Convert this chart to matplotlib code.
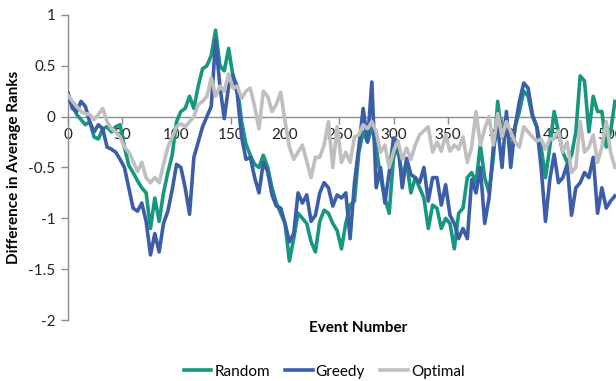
import matplotlib
matplotlib.use("Agg")
import matplotlib.pyplot as plt
import numpy as np

plt.rcParams["font.family"] = ["Lato", "DejaVu Sans"]

# event numbers (every 4th event)
events = np.arange(0, 505, 4)

random_vals = [
    0.22, 0.12, 0.02, -0.03, -0.08, -0.05, -0.2, -0.22, -0.12, -0.1,
    -0.15, -0.1, -0.08, -0.3, -0.48, -0.55, -0.63, -0.7, -0.75, -1.1,
    -0.8, -1.03, -0.75, -0.55, -0.38, -0.05, 0.05, 0.08, 0.2, 0.08,
    0.3, 0.47, 0.5, 0.6, 0.85, 0.5, 0.45, 0.67, 0.4, 0.3,
    -0.05, -0.27, -0.38, -0.47, -0.5, -0.38, -0.5, -0.7, -0.85, -0.95,
    -1.05, -1.42, -1.2, -0.95, -1.0, -1.05, -1.23, -1.33, -1.03, -0.92,
    -0.95, -1.05, -1.12, -1.3, -1.05, -0.87, -0.83, -0.35, -0.15, -0.25,
    -0.1, -0.3, -0.6, -0.8, -0.95, -0.4, -0.3, -0.6, -0.45, -0.75,
    -0.6, -0.7, -0.8, -1.1, -0.87, -0.9, -1.1, -1.0, -1.05, -1.3,
    -0.95, -0.9, -0.6, -0.55, -0.65, -0.28, -0.6, -0.75, -0.4, 0.15,
    -0.2, 0.0, -0.4, -0.1, 0.05, 0.25, 0.2, 0.0, -0.1, -0.3,
    -0.6, -0.3, 0.05, -0.15, -0.35, -0.45, -0.38, -0.15, 0.4, 0.35,
    -0.15, 0.2, 0.05, 0.05, -0.3, -0.15, 0.15,
]

greedy_vals = [
    0.23, 0.08, 0.05, 0.15, 0.1, -0.05, -0.15, -0.08, -0.12, -0.3,
    -0.32, -0.35, -0.42, -0.5, -0.7, -0.9, -0.93, -0.85, -1.03, -1.36,
    -1.15, -1.33, -1.05, -0.93, -0.72, -0.47, -0.5, -0.7, -0.96, -0.4,
    -0.25, -0.1, 0.0, 0.1, 0.75, 0.3, -0.02, 0.3, 0.41, 0.22,
    -0.2, -0.42, -0.4, -0.6, -0.75, -0.45, -0.54, -0.77, -0.88, -0.9,
    -1.05, -1.23, -1.15, -0.75, -0.85, -0.77, -1.03, -0.97, -0.75, -0.65,
    -0.7, -0.88, -0.77, -0.8, -0.75, -1.2, -0.65, -0.3, 0.08, -0.25,
    0.34, -0.7, -0.5, -0.85, -0.55, -0.21, -0.25, -0.7, -0.41, -0.57,
    -0.6, -0.65, -0.5, -0.83, -0.6, -0.6, -0.87, -0.67, -0.97, -1.05,
    -1.2, -1.1, -1.2, -0.62, -0.75, -0.5, -1.05, -0.8, -0.3, -0.1,
    -0.5, 0.05, -0.5, -0.1, 0.15, 0.33, 0.28, 0.02, -0.1, -0.5,
    -1.03, -0.62, -0.37, -0.65, -0.6, -0.47, -0.97, -0.7, -0.65, -0.55,
    -0.6, -0.4, -0.95, -0.7, -0.9, -0.83, -0.78,
]

optimal_vals = [
    0.21, 0.15, 0.1, 0.05, 0.03, 0.02, -0.03, 0.02, 0.08, -0.05,
    -0.12, -0.15, -0.2, -0.3, -0.35, -0.44, -0.54, -0.45, -0.6, -0.65,
    -0.6, -0.65, -0.47, -0.3, -0.2, -0.1, -0.07, -0.1, -0.05, 0.0,
    0.12, 0.15, 0.2, 0.38, 0.2, 0.3, 0.25, 0.42, 0.28, 0.3,
    0.18, 0.25, 0.28, 0.1, -0.12, 0.25, 0.2, 0.05, 0.12, 0.24,
    -0.05, -0.3, -0.42, -0.35, -0.28, -0.44, -0.6, -0.4, -0.4, -0.28,
    -0.05, -0.5, -0.1, -0.45, -0.35, -0.45, -0.2, -0.18, -0.08, -0.12,
    -0.05, -0.15, -0.35, -0.28, -0.5, -0.34, -0.24, -0.42, -0.31, -0.42,
    -0.28, -0.18, -0.14, -0.1, -0.35, -0.25, -0.34, -0.18, -0.34, -0.28,
    -0.32, -0.2, -0.45, -0.3, 0.05, -0.28, -0.12, 0.0, -0.28, 0.03,
    -0.2, -0.05, -0.15, -0.25, -0.3, -0.1, -0.15, -0.2, -0.24, -0.22,
    -0.32, -0.22, -0.22, -0.14, -0.35, -0.25, -0.55, -0.5, -0.05, -0.35,
    -0.3, -0.18, -0.45, -0.3, -0.05, -0.35, -0.5,
]

fig = plt.figure(figsize=(6.16, 3.81), dpi=100)
ax = fig.add_axes([0.1104, 0.16, 0.8896, 0.801])

ax.plot(events, random_vals, color="#17977f", lw=2.6, label="Random", zorder=3)
ax.plot(events, greedy_vals, color="#3c5ea8", lw=2.6, label="Greedy", zorder=3)
ax.plot(events, optimal_vals, color="#bfbfbf", lw=2.6, label="Optimal", zorder=3)

ax.set_xlim(0, 505)
ax.set_ylim(-2, 1)
ax.set_yticks([1, 0.5, 0, -0.5, -1, -1.5, -2])
ax.set_yticklabels(["1", "0.5", "0", "-0.5", "-1", "-1.5", "-2"])
ax.set_xticks(np.arange(0, 501, 50))

ax.spines["top"].set_visible(False)
ax.spines["right"].set_visible(False)
ax.spines["bottom"].set_position(("data", 0))
for s in ["left", "bottom"]:
    ax.spines[s].set_color("#8c8c8c")
    ax.spines[s].set_linewidth(1)
ax.tick_params(axis="both", colors="#8c8c8c", length=5, width=1,
               labelcolor="#222222", labelsize=11)
ax.tick_params(axis="y", pad=4)
ax.tick_params(axis="x", pad=3)

ax.set_ylabel("Difference in Average Ranks", fontsize=11, fontweight="bold",
              labelpad=5)
fig.text(358 / 616, 1 - 328 / 381, "Event Number", fontsize=11,
         fontweight="bold", ha="center", va="center")

fig.legend(loc="lower center", bbox_to_anchor=(0.526, -0.03), ncol=3,
           frameon=False, handlelength=1.8, handletextpad=0.2,
           columnspacing=1.0, fontsize=11)

fig.savefig("out.png", dpi=100)
